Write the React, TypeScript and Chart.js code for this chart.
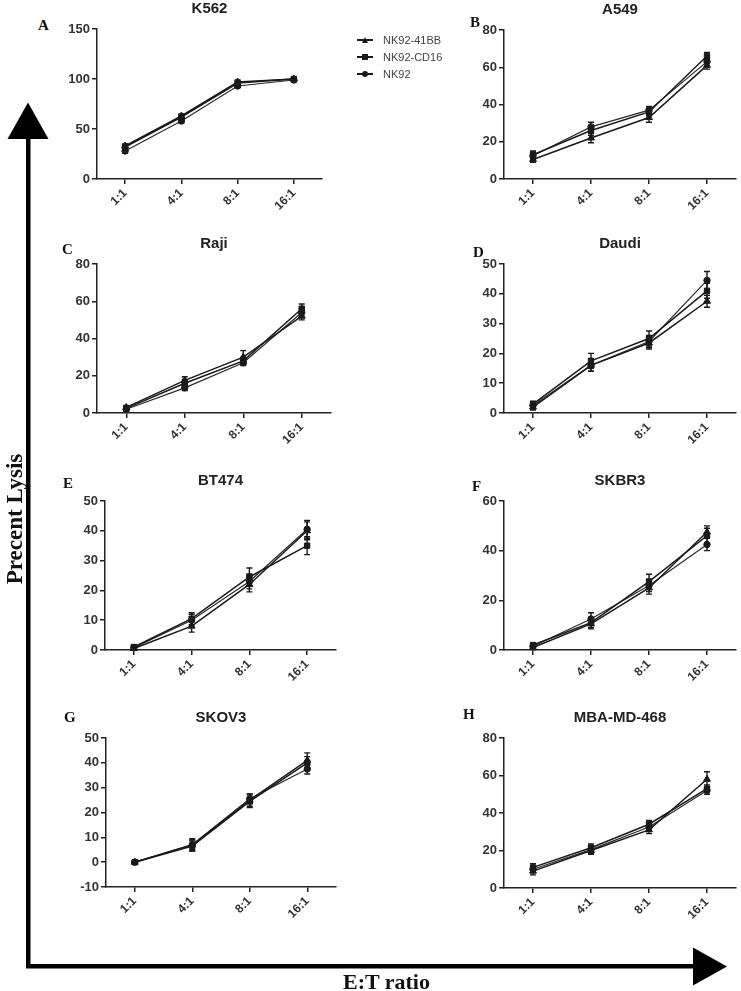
import React, { useEffect, useRef } from 'react';
import { Chart, registerables } from 'chart.js';

Chart.register(...registerables);

// ---------- data ----------
const CATEGORIES = ['1:1', '4:1', '8:1', '16:1'];
const SERIES_NAMES = ['NK92-41BB', 'NK92-CD16', 'NK92'];
const POINT_STYLES = ['triangle', 'rect', 'circle'];

// rows: NK92-41BB, NK92-CD16, NK92 ; columns follow CATEGORIES
const K562_MEAN = [[33, 63, 97, 100], [32, 62, 96, 100], [28, 58, 93, 99]];
const K562_SEM = [[2, 2, 2, 1.5], [2.5, 2, 2, 1.5], [2, 2, 1.5, 1.5]];

const A549_MEAN = [[10.5, 22, 33, 61], [13, 26, 36, 66], [12.5, 28, 37, 63]];
const A549_SEM = [[1.5, 2.5, 2.5, 2], [2, 2.5, 2, 2], [2, 2.5, 2, 2]];

const RAJI_MEAN = [[3, 17.5, 30, 52], [2.5, 16, 28, 56], [2, 13.5, 27, 54]];
const RAJI_SEM = [[1, 2, 3.5, 2], [1, 2, 2, 2.5], [1, 1.5, 1.5, 2]];

const DAUDI_MEAN = [[2, 16, 23.5, 37.5], [3, 17.5, 25, 41], [2.5, 16, 24, 44.5]];
const DAUDI_SEM = [[1, 2, 2, 2], [1, 2.5, 2.5, 2.5], [1, 2, 2, 3]];

const BT474_MEAN = [[0.5, 8, 22, 40], [1, 10.5, 24.5, 35], [0.8, 10, 23, 40.5]];
const BT474_SEM = [[0.5, 2, 2.5, 3], [0.5, 2, 3, 3], [0.5, 2, 2.5, 3]];

const SKBR3_MEAN = [[1, 10.5, 25, 47.5], [2, 11, 27.5, 46], [1.5, 12.5, 26, 42.5]];
const SKBR3_SEM = [[0.8, 2, 2.5, 2.5], [0.8, 2, 3, 3], [0.8, 2.5, 2.5, 2.5]];

const SKOV3_MEAN = [[0, 7, 25, 41], [0, 6.5, 24.5, 40], [0, 7, 25.5, 37.5]];
const SKOV3_SEM = [[0.3, 2.5, 2.5, 3], [0.3, 2, 2.5, 2.5], [0.3, 2, 2, 2]];

const MBA_MEAN = [[9, 20, 31, 58], [11, 21.5, 34, 53], [10, 20.5, 32.5, 52]];
const MBA_SEM = [[2, 2, 2, 4], [2, 2, 2, 2], [1.5, 2, 2, 2]];

// ---------- layout ----------
const Y_W = 40;
const X_H = 40;
const TOP_PAD = 30;

type PanelCfg = {
  title: string;
  mean: number[][];
  sem: number[][];
  min: number;
  max: number;
  step: number;
  left: number;
  right: number;
  top: number;
  bottom: number;
  rightPad: number;
};

const PANELS: PanelCfg[] = [
  { title: 'K562', mean: K562_MEAN, sem: K562_SEM, min: 0, max: 150, step: 50, left: 97, right: 323, top: 29, bottom: 179, rightPad: 4 },
  { title: 'A549', mean: A549_MEAN, sem: A549_SEM, min: 0, max: 80, step: 20, left: 504, right: 739, top: 30, bottom: 179, rightPad: 2 },
  { title: 'Raji', mean: RAJI_MEAN, sem: RAJI_SEM, min: 0, max: 80, step: 20, left: 97, right: 332, top: 264, bottom: 413, rightPad: 4 },
  { title: 'Daudi', mean: DAUDI_MEAN, sem: DAUDI_SEM, min: 0, max: 50, step: 10, left: 504, right: 739, top: 264, bottom: 413, rightPad: 2 },
  { title: 'BT474', mean: BT474_MEAN, sem: BT474_SEM, min: 0, max: 50, step: 10, left: 105, right: 337, top: 501, bottom: 650, rightPad: 4 },
  { title: 'SKBR3', mean: SKBR3_MEAN, sem: SKBR3_SEM, min: 0, max: 60, step: 20, left: 504, right: 739, top: 501, bottom: 650, rightPad: 2 },
  { title: 'SKOV3', mean: SKOV3_MEAN, sem: SKOV3_SEM, min: -10, max: 50, step: 10, left: 106, right: 337, top: 738, bottom: 887, rightPad: 4 },
  { title: 'MBA-MD-468', mean: MBA_MEAN, sem: MBA_SEM, min: 0, max: 80, step: 20, left: 504, right: 739, top: 738, bottom: 888, rightPad: 2 },
];

const LETTERS = [
  { t: 'A', x: 38, y: 21 },
  { t: 'B', x: 470, y: 18 },
  { t: 'C', x: 62, y: 245 },
  { t: 'D', x: 473, y: 248 },
  { t: 'E', x: 63, y: 479 },
  { t: 'F', x: 472, y: 482 },
  { t: 'G', x: 64, y: 713 },
  { t: 'H', x: 463, y: 710 },
];

const INK = '#1a1a1a';
const SANS = '"Liberation Sans", Arial, Helvetica, sans-serif';
const SERIF = '"Liberation Serif", "Times New Roman", Times, serif';

const errorBarPlugin = {
  id: 'errorBars',
  beforeDatasetsDraw(chart: any) {
    const ctx = chart.ctx;
    const ys = chart.scales.y;
    chart.data.datasets.forEach((ds: any, i: number) => {
      const meta = chart.getDatasetMeta(i);
      meta.data.forEach((pt: any, j: number) => {
        const v = ds.data[j];
        const e = ds.errors[j];
        const x = pt.x;
        const y1 = ys.getPixelForValue(v + e);
        const y2 = ys.getPixelForValue(v - e);
        ctx.save();
        ctx.strokeStyle = INK;
        ctx.lineWidth = 1.4;
        ctx.beginPath();
        ctx.moveTo(x, y1);
        ctx.lineTo(x, y2);
        ctx.moveTo(x - 3, y1);
        ctx.lineTo(x + 3, y1);
        ctx.moveTo(x - 3, y2);
        ctx.lineTo(x + 3, y2);
        ctx.stroke();
        ctx.restore();
      });
    });
  },
};

const titlePlugin = {
  id: 'panelTitle',
  afterDraw(chart: any, _args: any, opts: any) {
    const { ctx, chartArea } = chart;
    ctx.save();
    ctx.font = `bold 15px ${SANS}`;
    ctx.fillStyle = '#222';
    ctx.textAlign = 'center';
    ctx.textBaseline = 'alphabetic';
    ctx.fillText(opts.text, (chartArea.left + chartArea.right) / 2, chartArea.top - 16);
    ctx.restore();
  },
};

function Panel({ cfg }: { cfg: PanelCfg }) {
  const ref = useRef<HTMLCanvasElement>(null);
  const width = Y_W + (cfg.right - cfg.left) + cfg.rightPad;
  const height = TOP_PAD + (cfg.bottom - cfg.top) + X_H;

  useEffect(() => {
    if (!ref.current) return;
    const axisGrid = {
      display: true,
      drawOnChartArea: false,
      drawTicks: true,
      tickLength: 5,
      color: '#222',
      lineWidth: 1.5,
      offset: false,
    };
    const axisBorder = { display: true, color: '#222', width: 1.5 };
    const chart = new Chart(ref.current, {
      type: 'line',
      data: {
        labels: CATEGORIES,
        datasets: SERIES_NAMES.map((name, i) => ({
          label: name,
          data: cfg.mean[i],
          errors: cfg.sem[i],
          borderColor: i === 2 ? '#2a2a2a' : INK,
          borderWidth: i === 2 ? 1.2 : 1.5,
          pointStyle: POINT_STYLES[i],
          pointRadius: i === 1 ? 3.8 : i === 0 ? 4 : 3.2,
          pointBackgroundColor: INK,
          pointBorderColor: INK,
          pointBorderWidth: 1,
          tension: 0,
          fill: false,
          clip: false,
        })) as any,
      },
      options: {
        responsive: false,
        animation: false,
        events: [],
        layout: { padding: { top: TOP_PAD, right: cfg.rightPad, left: 0, bottom: 0 } },
        plugins: {
          legend: { display: false },
          tooltip: { enabled: false },
          panelTitle: { text: cfg.title },
        } as any,
        scales: {
          x: {
            type: 'category',
            offset: true,
            grid: axisGrid,
            border: axisBorder,
            ticks: {
              minRotation: 45,
              maxRotation: 45,
              autoSkip: false,
              padding: 2,
              color: '#333',
              font: { family: SANS, size: 12, weight: 'bold' },
            },
            afterFit(s: any) {
              s.height = X_H;
            },
          },
          y: {
            min: cfg.min,
            max: cfg.max,
            grid: axisGrid,
            border: axisBorder,
            ticks: {
              stepSize: cfg.step,
              padding: 2,
              color: '#333',
              font: { family: SANS, size: 13, weight: 'bold' },
            },
            afterFit(s: any) {
              s.width = Y_W;
            },
          },
        } as any,
      },
      plugins: [errorBarPlugin, titlePlugin],
    });
    return () => chart.destroy();
  }, [cfg]);

  return (
    <canvas
      ref={ref}
      width={width}
      height={height}
      style={{
        position: 'absolute',
        left: cfg.left - Y_W,
        top: cfg.top - TOP_PAD,
        width,
        height,
      }}
    />
  );
}

function LegendMarker({ kind }: { kind: string }) {
  let mark: React.ReactNode = null;
  if (kind === 'triangle') {
    mark = (
      <div
        style={{
          width: 0,
          height: 0,
          borderLeft: '3.5px solid transparent',
          borderRight: '3.5px solid transparent',
          borderBottom: `6px solid ${INK}`,
        }}
      />
    );
  } else if (kind === 'rect') {
    mark = <div style={{ width: 6, height: 6, background: INK }} />;
  } else {
    mark = <div style={{ width: 6, height: 6, background: INK, borderRadius: '50%' }} />;
  }
  return (
    <div style={{ position: 'relative', width: 16, height: 16 }}>
      <div style={{ position: 'absolute', left: 0, top: 7.25, width: 16, height: 1.5, background: INK }} />
      <div
        style={{
          position: 'absolute',
          left: 0,
          top: 0,
          width: 16,
          height: 16,
          display: 'flex',
          alignItems: 'center',
          justifyContent: 'center',
        }}
      >
        {mark}
      </div>
    </div>
  );
}

export default function App() {
  const legendRows = [40, 57, 74];
  return (
    <div
      style={{
        position: 'absolute',
        left: 0,
        top: 0,
        width: 741,
        height: 991,
        background: '#fff',
        overflow: 'hidden',
      }}
    >
      {PANELS.map((p) => (
        <Panel key={p.title} cfg={p} />
      ))}

      {LETTERS.map((l) => (
        <div
          key={l.t}
          style={{
            position: 'absolute',
            left: l.x,
            top: l.y - 2.6,
            fontFamily: SERIF,
            fontWeight: 'bold',
            fontSize: 15,
            lineHeight: '15px',
            color: '#111',
          }}
        >
          {l.t}
        </div>
      ))}

      {SERIES_NAMES.map((name, i) => (
        <div
          key={name}
          style={{
            position: 'absolute',
            left: 357,
            top: legendRows[i] - 8,
            height: 16,
            display: 'flex',
            alignItems: 'center',
            whiteSpace: 'nowrap',
          }}
        >
          <LegendMarker kind={POINT_STYLES[i]} />
          <span
            style={{
              marginLeft: 10,
              fontFamily: SANS,
              fontSize: 11,
              color: '#444',
              lineHeight: '16px',
            }}
          >
            {name}
          </span>
        </div>
      ))}

      <svg
        width={741}
        height={991}
        style={{ position: 'absolute', left: 0, top: 0, pointerEvents: 'none' }}
      >
        <rect x={26} y={136} width={4.5} height={832} fill="#000" />
        <rect x={26} y={964} width={670} height={4.5} fill="#000" />
        <polygon points="7.5,139 48.5,139 28,102.5" fill="#000" />
        <polygon points="693,947.5 693,985.5 727,966.5" fill="#000" />
      </svg>

      <div
        style={{
          position: 'absolute',
          left: 14,
          top: 519,
          transform: 'translate(-50%, -50%) rotate(-90deg)',
          fontFamily: SERIF,
          fontWeight: 'bold',
          fontSize: 23,
          lineHeight: '23px',
          whiteSpace: 'nowrap',
          color: '#111',
        }}
      >
        Precent Lysis
      </div>

      <div
        style={{
          position: 'absolute',
          left: 343,
          top: 989 - 0.8375 * 22,
          fontFamily: SERIF,
          fontWeight: 'bold',
          fontSize: 22,
          lineHeight: '22px',
          whiteSpace: 'nowrap',
          color: '#111',
        }}
      >
        E:T ratio
      </div>
    </div>
  );
}
